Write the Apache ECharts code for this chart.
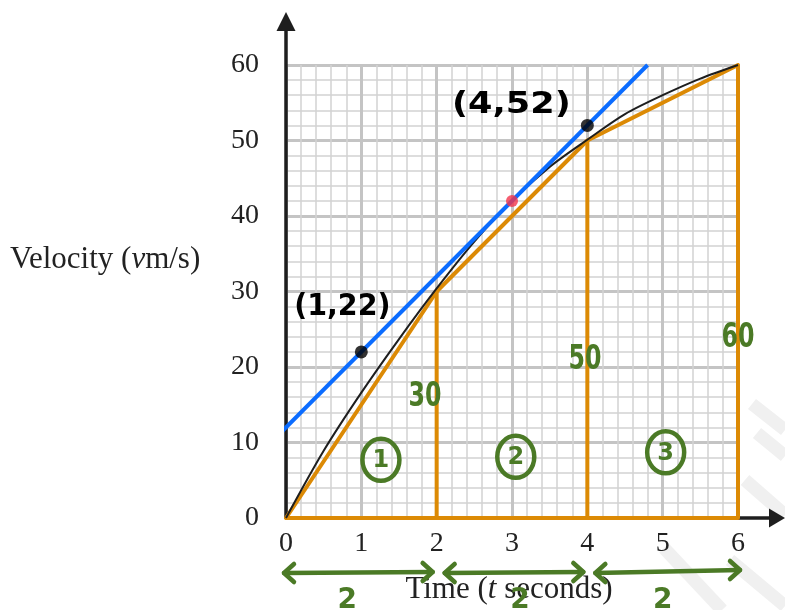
<!DOCTYPE html>
<html>
<head>
<meta charset="utf-8">
<script src="https://cdn.jsdelivr.net/npm/echarts@6/dist/echarts.min.js"></script>
<style>
  html, body { margin: 0; padding: 0; background: #ffffff; }
  #chart { width: 785px; height: 610px; }
</style>
</head>
<body>
<div id="chart"></div>
<script>
// Velocity–time data
const timeTicks = [0, 1, 2, 3, 4, 5, 6];
const velocityTicks = [0, 10, 20, 30, 40, 50, 60];

// measured velocity curve
const curveT = [0, 0.5, 1, 1.5, 2, 2.5, 3, 3.5, 4, 4.5, 5, 5.5, 6];
const curveV = [0, 8.9, 16.6, 23.7, 30.4, 36.6, 42.0, 46.5, 50.1, 53.5, 56.0, 58.2, 60];

// trapezium strips used to estimate the area
const stripT = [0, 2, 4, 6];
const stripV = [0, 30, 50, 60];

// tangent at t = 3
const tangentT = [-0.12, 4.8];
const tangentV = [10.8, 60];
const touchT = [3];
const touchV = [42];

const markedT = [1, 4];
const markedV = [22, 52];
const markedText = ['(1,22)', '(4,52)'];

// strip heights, strip numbers and strip widths
const heightText = ['30', '50', '60'];
const stripNames = ['1', '2', '3'];
const widthText = ['2', '2', '2'];

const pair = (xs, ys) => xs.map((x, i) => [x, ys[i]]);

const ORANGE = '#dc8a05';
const BLUE = '#0b6cff';
const GREEN = '#4b7a26';
const INK = '#1e1e1e';
const SERIF = '"Liberation Serif", "DejaVu Serif", serif';
const HAND = '"DejaVu Sans", "Noto Sans", sans-serif';

const chart = echarts.init(document.getElementById('chart'), null, { renderer: 'canvas' });

// outline of the three trapezia
const stripOutline = pair(stripT, stripV).concat([[stripT[stripT.length - 1], 0], [stripT[0], 0]]);
const stripWalls = stripT.slice(1, -1).map((t, i) => [[t, 0], [t, stripV[i + 1]]]);

const series = [
  {
    type: 'line', name: 'strips', data: stripOutline, showSymbol: false, z: 2,
    lineStyle: { color: ORANGE, width: 4, join: 'round', cap: 'round' }, silent: true
  }
].concat(stripWalls.map(w => ({
  type: 'line', data: w, showSymbol: false, z: 2,
  lineStyle: { color: ORANGE, width: 4 }, silent: true
}))).concat([
  {
    type: 'line', name: 'velocity', data: pair(curveT, curveV), smooth: 0.3, showSymbol: false, z: 3,
    lineStyle: { color: INK, width: 2 }, silent: true
  },
  {
    type: 'line', name: 'tangent', data: pair(tangentT, tangentV), showSymbol: false, z: 4,
    lineStyle: { color: BLUE, width: 4 }, silent: true
  },
  {
    type: 'scatter', data: pair(touchT, touchV), symbolSize: 12, z: 5,
    itemStyle: { color: '#f3344c' }, silent: true
  },
  {
    type: 'scatter', data: pair(markedT, markedV), symbolSize: 13, z: 6,
    itemStyle: { color: '#000000' }, silent: true
  }
]);

chart.setOption({
  animation: false,
  backgroundColor: '#ffffff',
  grid: { left: 286, right: 47, top: 65, bottom: 92, containLabel: false },
  xAxis: {
    type: 'value', min: timeTicks[0], max: timeTicks[timeTicks.length - 1], interval: 1,
    axisLine: { show: false }, axisTick: { show: false },
    axisLabel: {
      margin: 12, fontFamily: SERIF, fontSize: 28, color: '#222222',
      formatter: v => timeTicks.includes(v) ? String(v) : ''
    },
    splitLine: { show: true, lineStyle: { color: '#c4c4c4', width: 3 } },
    minorTick: { show: false, splitNumber: 5 },
    minorSplitLine: { show: true, lineStyle: { color: '#d2d2d2', width: 1.5 } }
  },
  yAxis: {
    type: 'value', min: velocityTicks[0], max: velocityTicks[velocityTicks.length - 1], interval: 10,
    axisLine: { show: false }, axisTick: { show: false },
    axisLabel: {
      margin: 27, fontFamily: SERIF, fontSize: 28, color: '#222222',
      formatter: v => velocityTicks.includes(v) ? String(v) : ''
    },
    splitLine: { show: true, lineStyle: { color: '#c4c4c4', width: 3 } },
    minorTick: { show: false, splitNumber: 5 },
    minorSplitLine: { show: true, lineStyle: { color: '#d2d2d2', width: 1.5 } }
  },
  series: series
});

// hand-drawn notes and axes, placed from data coordinates
const px = (t, v) => chart.convertToPixel({ gridIndex: 0 }, [t, v]);
const [x0, y0] = px(0, 0);

const g = [];

// faint watermark strokes
[
  [[752, 404], [785, 430]],
  [[757, 433], [785, 456]],
  [[745, 480], [785, 515]],
  [[664, 548], [722, 610]],
  [[730, 560], [785, 606]]
].forEach(p => g.push({
  type: 'polyline', z: 0, silent: true,
  shape: { points: p },
  style: { stroke: '#f0f0f0', lineWidth: 13, lineCap: 'butt' }
}));

// axes with arrow heads
g.push({ type: 'line', z: 1, shape: { x1: x0, y1: y0 + 1, x2: x0, y2: 28 }, style: { stroke: INK, lineWidth: 3.5 } });
g.push({ type: 'polygon', z: 1, shape: { points: [[x0 - 9.5, 31], [x0, 12], [x0 + 9.5, 31]] }, style: { fill: INK } });
g.push({ type: 'line', z: 1, shape: { x1: x0 - 1, y1: y0, x2: 772, y2: y0 }, style: { stroke: INK, lineWidth: 3.5 } });
g.push({ type: 'polygon', z: 1, shape: { points: [[769, y0 - 9.5], [785, y0], [769, y0 + 9.5]] }, style: { fill: INK } });

// axis titles
const titleRich = {
  n: { fontFamily: SERIF, fontSize: 31, fill: '#222222' },
  i: { fontFamily: SERIF, fontSize: 31, fontStyle: 'italic', fill: '#222222' }
};
g.push({
  type: 'text', z: 10, x: 10, y: 260,
  style: { text: '{n|Velocity (}{i|v}{n|m/s)}', align: 'left', verticalAlign: 'middle', rich: titleRich }
});
g.push({
  type: 'text', z: 10, x: 509, y: 590,
  style: { text: '{n|Time (}{i|t}{n| seconds)}', align: 'center', verticalAlign: 'middle', rich: titleRich }
});

// coordinates written next to the tangent points
const markedOffset = [[-19, -45], [-76, -20]];
const markedStretch = [0.95, 1.17];
markedText.forEach((txt, i) => {
  const [mx, my] = px(markedT[i], markedV[i]);
  g.push({
    type: 'text', z: 10, x: mx + markedOffset[i][0], y: my + markedOffset[i][1],
    scaleX: markedStretch[i],
    style: {
      text: txt, align: 'center', verticalAlign: 'middle',
      font: 'bold 30px ' + HAND, fill: '#000000'
    }
  });
});

// strip heights
const heightAt = [[1.845, 16.0], [3.97, 20.9], [6.0, 23.8]];
heightText.forEach((txt, i) => {
  const [hx, hy] = px(heightAt[i][0], heightAt[i][1]);
  g.push({
    type: 'text', z: 10, x: hx, y: hy, scaleX: 0.72,
    style: { text: txt, align: 'center', verticalAlign: 'middle', font: 'bold 33px ' + HAND, fill: GREEN }
  });
});

// circled strip numbers
const nameAt = [[1.26, 7.7], [3.05, 8.1], [5.04, 8.7]];
stripNames.forEach((txt, i) => {
  const [cx, cy] = px(nameAt[i][0], nameAt[i][1]);
  g.push({
    type: 'ellipse', z: 10, shape: { cx: cx, cy: cy, rx: 18.5, ry: 21 },
    style: { stroke: GREEN, lineWidth: 4.5, fill: 'none' }
  });
  g.push({
    type: 'text', z: 10, x: cx, y: cy + 1,
    style: { text: txt, align: 'center', verticalAlign: 'middle', font: 'bold 24px ' + HAND, fill: GREEN }
  });
});

// width arrows under the time axis
const arrowY = y0 + 55;
for (let i = 0; i < stripT.length - 1; i++) {
  const [a] = px(stripT[i], 0);
  const [b] = px(stripT[i + 1], 0);
  const l = a + (i === 0 ? -2 : 8);
  const r = b + (i === 2 ? 2 : -4);
  const ry = arrowY - (i === 2 ? 3 : 1);
  g.push({ type: 'line', z: 10, shape: { x1: l, y1: arrowY, x2: r, y2: ry },
    style: { stroke: GREEN, lineWidth: 4.5, lineCap: 'round' } });
  g.push({ type: 'polyline', z: 10, shape: { points: [[l + 10, arrowY - 9], [l, arrowY], [l + 10, arrowY + 9]] },
    style: { stroke: GREEN, lineWidth: 4.5, lineCap: 'round', lineJoin: 'round', fill: 'none' } });
  g.push({ type: 'polyline', z: 10, shape: { points: [[r - 10, ry - 9], [r, ry], [r - 10, ry + 9]] },
    style: { stroke: GREEN, lineWidth: 4.5, lineCap: 'round', lineJoin: 'round', fill: 'none' } });
  g.push({
    type: 'text', z: 11, x: (a + b) / 2 + (i === 1 ? 8 : (i === 0 ? -14 : 0)), y: arrowY + 28,
    style: { text: widthText[i], align: 'center', verticalAlign: 'middle', font: 'bold 28px ' + HAND, fill: GREEN }
  });
}

chart.setOption({ graphic: { elements: g } });
</script>
</body>
</html>
